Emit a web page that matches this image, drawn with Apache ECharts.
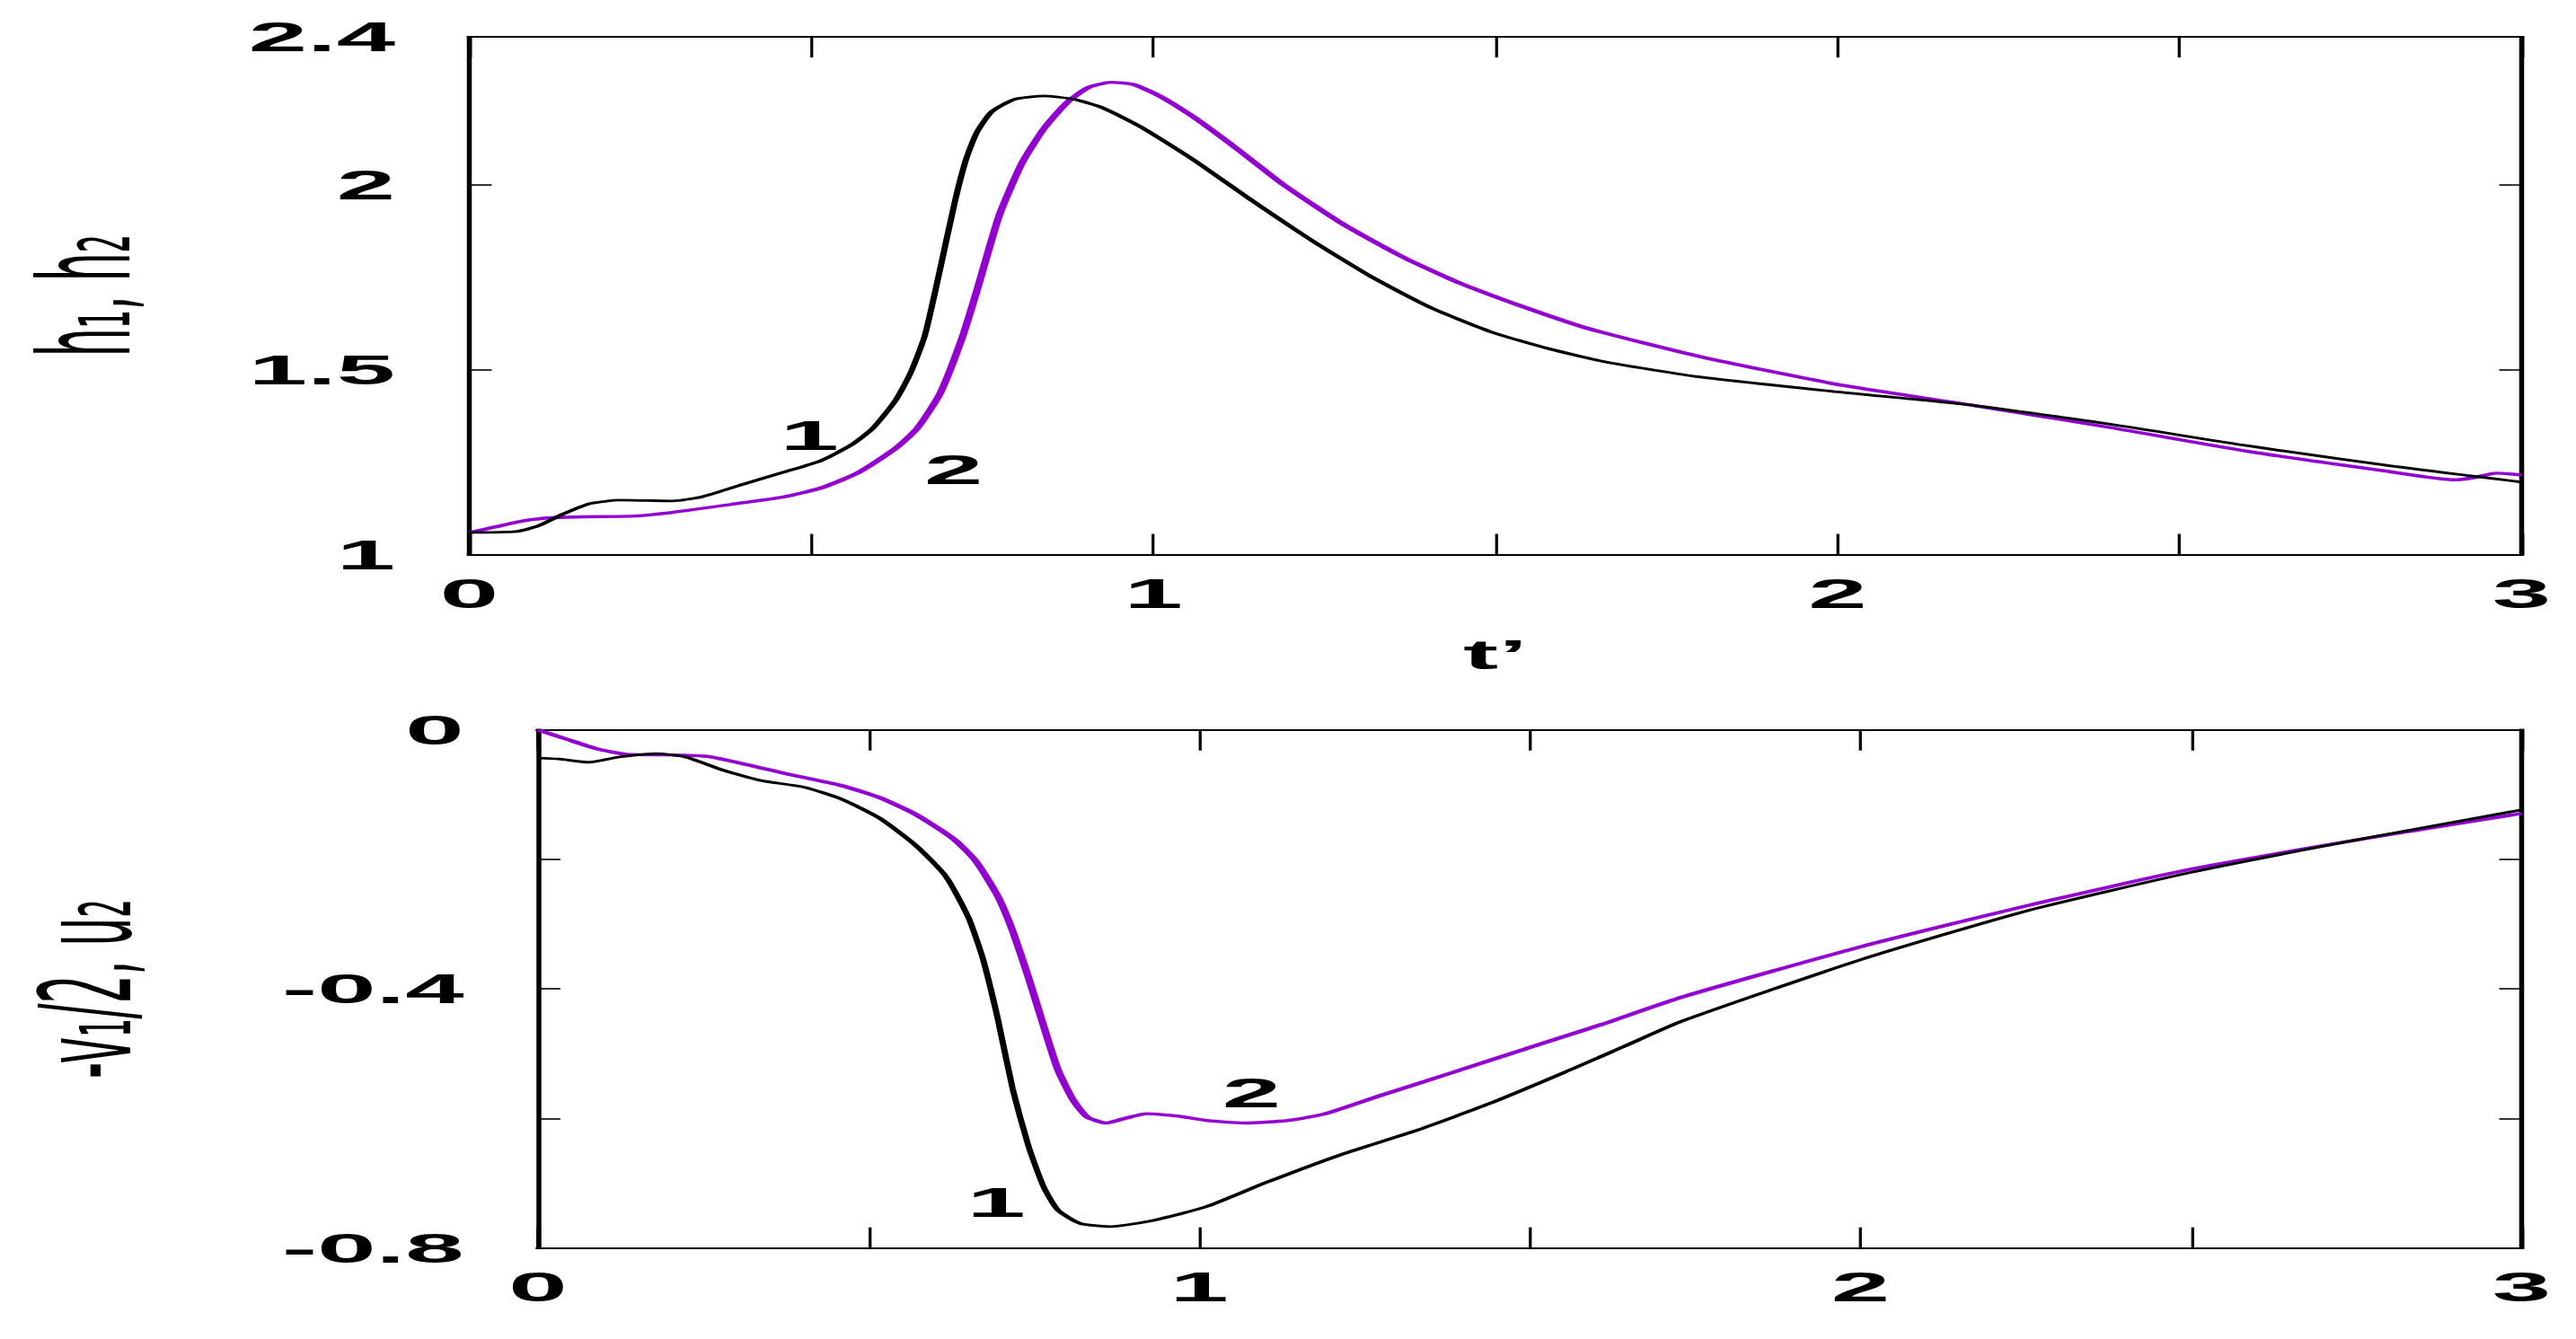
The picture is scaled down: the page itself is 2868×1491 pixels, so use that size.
<!DOCTYPE html>
<html><head><meta charset="utf-8">
<script src="https://cdn.jsdelivr.net/npm/echarts@6/dist/echarts.min.js"></script>
<style>
html,body{margin:0;padding:0;background:#fff;overflow:hidden;}
#wrap{width:2868px;height:1491px;position:relative;overflow:hidden;background:#fff;}
#c{position:absolute;left:0;top:0;width:1147.2px;height:1491px;transform:scaleX(2.5);transform-origin:0 0;}
</style></head><body><div id="wrap"><div id="c"></div></div>
<script>
// ---- data ----
const xTicksLabels = [0, 1, 2, 3];
// top panel: h1 (curve 1, black), h2 (curve 2, purple)
const h1T = [0, 0.03, 0.071, 0.10, 0.134, 0.177, 0.22, 0.26, 0.297, 0.34, 0.405, 0.46, 0.514, 0.558, 0.59, 0.623, 0.645, 0.666, 0.688, 0.71, 0.726, 0.742, 0.764, 0.797, 0.84, 0.884, 0.927, 0.982, 1.058, 1.145, 1.232, 1.318, 1.405, 1.492, 1.579, 1.666, 1.8, 2.0, 2.2, 2.4, 2.6, 2.8, 2.92, 3.0];
const h1 = [1.06, 1.06, 1.063, 1.077, 1.107, 1.138, 1.147, 1.146, 1.145, 1.156, 1.193, 1.223, 1.254, 1.296, 1.342, 1.417, 1.491, 1.593, 1.77, 1.956, 2.068, 2.142, 2.198, 2.231, 2.240, 2.231, 2.207, 2.156, 2.068, 1.956, 1.849, 1.752, 1.668, 1.603, 1.556, 1.519, 1.48, 1.44, 1.403, 1.352, 1.294, 1.242, 1.214, 1.196];
const h2T = [0, 0.036, 0.079, 0.114, 0.166, 0.242, 0.297, 0.384, 0.46, 0.514, 0.568, 0.623, 0.655, 0.688, 0.72, 0.742, 0.775, 0.808, 0.84, 0.873, 0.905, 0.938, 0.971, 1.014, 1.058, 1.123, 1.188, 1.275, 1.362, 1.449, 1.536, 1.634, 1.8, 2.0, 2.2, 2.4, 2.6, 2.8, 2.902, 2.93, 2.963, 3.0];
const h2 = [1.059, 1.074, 1.091, 1.099, 1.102, 1.104, 1.114, 1.136, 1.156, 1.18, 1.221, 1.287, 1.342, 1.435, 1.584, 1.714, 1.919, 2.059, 2.152, 2.221, 2.263, 2.277, 2.271, 2.235, 2.184, 2.096, 2.003, 1.896, 1.807, 1.733, 1.673, 1.612, 1.535, 1.46, 1.403, 1.343, 1.279, 1.226, 1.202, 1.208, 1.22, 1.215];
// bottom panel: -v1/2 (curve 1, black), u2 (curve 2, purple)
const v1T = [0, 0.032, 0.077, 0.122, 0.178, 0.223, 0.279, 0.336, 0.403, 0.459, 0.516, 0.572, 0.617, 0.651, 0.673, 0.696, 0.718, 0.741, 0.764, 0.786, 0.82, 0.865, 0.932, 1.011, 1.101, 1.214, 1.327, 1.439, 1.552, 1.642, 1.732, 2.0, 2.25, 2.5, 2.75, 3.0];
const v1 = [-0.0435, -0.045, -0.05, -0.042, -0.0366, -0.042, -0.062, -0.078, -0.0886, -0.107, -0.136, -0.179, -0.2265, -0.29, -0.354, -0.449, -0.555, -0.64, -0.704, -0.741, -0.762, -0.767, -0.757, -0.736, -0.699, -0.656, -0.619, -0.577, -0.529, -0.489, -0.449, -0.355, -0.28, -0.22, -0.17, -0.1235];
const u2T = [0, 0.043, 0.088, 0.133, 0.2, 0.257, 0.313, 0.381, 0.459, 0.516, 0.572, 0.628, 0.662, 0.696, 0.718, 0.741, 0.764, 0.786, 0.809, 0.831, 0.859, 0.887, 0.921, 0.966, 1.011, 1.068, 1.135, 1.191, 1.27, 1.383, 1.495, 1.608, 1.732, 2.0, 2.25, 2.5, 2.75, 3.0];
const u2 = [0, -0.0143, -0.029, -0.0377, -0.0387, -0.041, -0.053, -0.069, -0.086, -0.1045, -0.131, -0.168, -0.2026, -0.258, -0.311, -0.38, -0.455, -0.524, -0.571, -0.598, -0.607, -0.6, -0.5926, -0.596, -0.603, -0.607, -0.603, -0.5926, -0.566, -0.529, -0.492, -0.455, -0.412, -0.335, -0.272, -0.215, -0.17, -0.129];
// curve number labels (data coordinates)
const topLabels = [{text: '1', t: 0.497, y: 1.322}, {text: '2', t: 0.708, y: 1.229}];
const botLabels = [{text: '1', t: 0.693, y: -0.729}, {text: '2', t: 1.079, y: -0.560}];

// ---- chart ----
const FONT = '"Liberation Sans", Arial, Helvetica, sans-serif';
const NARROW = '"Liberation Sans Narrow", "DejaVu Sans Condensed", "Liberation Sans", Arial, sans-serif';
const PURPLE = '#9400D3';
const zip = (a, b) => a.map((v, i) => [v, b[i]]);
const LINE = {show: true, onZero: false, lineStyle: {color: '#000', width: 2.2, cap: 'square'}};

function xAx(gi, pos, show) {
  return {
    type: 'value', gridIndex: gi, position: pos, min: 0, max: 3, interval: 0.5,
    axisLine: LINE, splitLine: {show: false},
    axisTick: {show: true, inside: true, length: 23, lineStyle: {color: '#000', width: 1.3}},
    axisLabel: {show: show, margin: 20, color: '#000', fontFamily: FONT, fontSize: 47, fontWeight: 'bold',
      formatter: v => (xTicksLabels.indexOf(v) >= 0 ? String(v) : '')}
  };
}
function yAx(gi, pos, show, cfg, fmt) {
  return Object.assign({
    type: 'value', gridIndex: gi, position: pos,
    axisLine: LINE, splitLine: {show: false},
    axisTick: {show: true, inside: true, length: 10, lineStyle: {color: '#000', width: 1.6}},
    axisLabel: {show: show, margin: 33, color: '#000', fontFamily: FONT, fontSize: 47, fontWeight: 'bold', formatter: fmt}
  }, cfg);
}
function marks(list) {
  return {
    symbol: 'circle', symbolSize: 0, silent: true, animation: false,
    label: {show: true, position: 'inside', color: '#000', fontFamily: FONT, fontSize: 47, fontWeight: 'bold',
      formatter: p => p.name},
    data: list.map(d => ({name: d.text, coord: [d.t, d.y]}))
  };
}

const chart = echarts.init(document.getElementById('c'), null, {renderer: 'svg', width: 1147.2, height: 1491});
chart.setOption({
  backgroundColor: '#fff',
  animation: false,
  grid: [
    {left: 209, right: 24.2, top: 41, bottom: 873.5, containLabel: false, outerBoundsMode: 'none', show: false},
    {left: 239.6, right: 24.2, top: 812.7, bottom: 101.3, containLabel: false, outerBoundsMode: 'none', show: false}
  ],
  xAxis: [
    Object.assign(xAx(0, 'bottom', true), {name: 't\u2019', nameLocation: 'middle', nameGap: 88,
      nameTextStyle: {color: '#000', fontFamily: FONT, fontSize: 47, fontWeight: 'bold'}}),
    xAx(0, 'top', false),
    xAx(1, 'bottom', true),
    xAx(1, 'top', false)
  ],
  yAxis: [
    yAx(0, 'left', true, {min: 1, max: 2.4, interval: 0.5, name: 'h\u2081, h\u2082', nameLocation: 'middle', nameGap: 143,
      nameTextStyle: {color: '#000', fontFamily: NARROW, fontSize: 56}}, v => String(v)),
    yAx(0, 'right', false, {min: 1, max: 2.4, interval: 0.5}),
    yAx(1, 'left', true, {min: -0.8, max: 0, interval: 0.2, name: '-v\u2081/2, u\u2082', nameLocation: 'middle', nameGap: 173,
      nameTextStyle: {color: '#000', fontFamily: NARROW, fontSize: 56}},
      v => { const k = Math.round(-v / 0.2); return k % 2 === 0 ? (k === 0 ? '0' : '-' + (k * 0.2).toFixed(1)) : ''; }),
    yAx(1, 'right', false, {min: -0.8, max: 0, interval: 0.2})
  ],
  series: [
    {type: 'line', name: 'h1', xAxisIndex: 0, yAxisIndex: 0, data: zip(h1T, h1), showSymbol: false, smooth: 0.2,
      lineStyle: {color: '#000', width: 2.8}, itemStyle: {color: '#000'}, markPoint: marks(topLabels), z: 3},
    {type: 'line', name: 'h2', xAxisIndex: 0, yAxisIndex: 0, data: zip(h2T, h2), showSymbol: false, smooth: 0.2,
      lineStyle: {color: PURPLE, width: 3.4}, itemStyle: {color: PURPLE}, z: 2},
    {type: 'line', name: 'v1', xAxisIndex: 2, yAxisIndex: 2, data: zip(v1T, v1), showSymbol: false, smooth: 0.2,
      lineStyle: {color: '#000', width: 2.8}, itemStyle: {color: '#000'}, markPoint: marks(botLabels), z: 3},
    {type: 'line', name: 'u2', xAxisIndex: 2, yAxisIndex: 2, data: zip(u2T, u2), showSymbol: false, smooth: 0.2,
      lineStyle: {color: PURPLE, width: 3.4}, itemStyle: {color: PURPLE}, z: 2}
  ]
});
</script>
</body></html>
